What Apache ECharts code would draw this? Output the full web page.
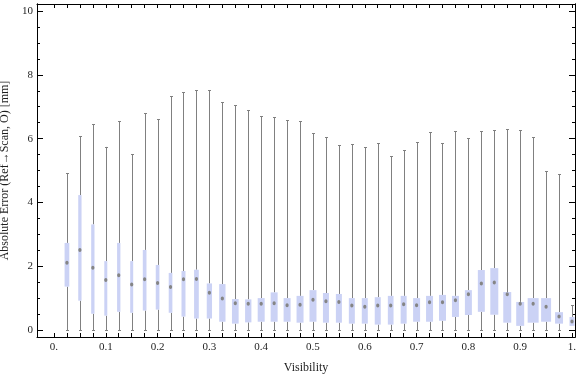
<!DOCTYPE html>
<html>
<head>
<meta charset="utf-8">
<script src="https://cdn.jsdelivr.net/npm/echarts@6/dist/echarts.min.js"></script>
<style>
html,body{margin:0;padding:0;background:#fff;}
#chart{width:576px;height:377px;}
</style>
</head>
<body>
<div id="chart"></div>
<script>
// Visibility categories (box positions)
const visibility = [0.025,0.05,0.075,0.1,0.125,0.15,0.175,0.2,0.225,0.25,
  0.275,0.3,0.325,0.35,0.375,0.4,0.425,0.45,0.475,0.5,
  0.525,0.55,0.575,0.6,0.625,0.65,0.675,0.7,0.725,0.75,
  0.775,0.8,0.825,0.85,0.875,0.9,0.925,0.95,0.975,1.0];
const minVals = [0,0,0,0,0,0,0,0,0,0, 0,0,0,0,0,0,0,0,0,0, 0,0,0,0,0,0,0,0,0,0, 0,0,0,0,0,0,0,0,0,0.13];
const q1Vals = [1.36,0.92,0.51,0.45,0.57,0.54,0.61,0.64,0.54,0.42,
  0.36,0.36,0.26,0.20,0.24,0.26,0.26,0.26,0.23,0.26,
  0.23,0.23,0.20,0.20,0.17,0.17,0.20,0.26,0.26,0.29,
  0.41,0.47,0.57,0.48,0.23,0.13,0.23,0.26,0.20,0.13];
const medianVals = [2.11,2.51,1.95,1.57,1.72,1.43,1.59,1.47,1.35,1.59,
  1.60,1.17,0.99,0.84,0.82,0.82,0.84,0.78,0.79,0.95,
  0.90,0.88,0.77,0.73,0.77,0.77,0.81,0.78,0.87,0.87,
  0.93,1.12,1.46,1.49,1.12,0.82,0.82,0.73,0.42,0.27];
const q3Vals = [2.73,4.23,3.31,2.16,2.73,2.16,2.51,2.04,1.79,1.85,
  1.89,1.46,1.44,0.97,0.96,1.00,1.18,1.00,1.07,1.25,
  1.16,1.13,1.00,1.00,1.03,1.07,1.07,1.00,1.07,1.10,
  1.07,1.25,1.88,1.94,1.19,0.88,1.00,1.00,0.56,0.41];
const maxVals = [4.91,6.08,6.45,5.74,6.55,5.51,6.79,6.61,7.33,7.45,
  7.52,7.52,7.14,7.04,6.89,6.70,6.67,6.57,6.54,6.17,
  6.04,5.79,5.82,5.73,5.85,5.44,5.63,5.88,6.20,5.85,
  6.23,6.01,6.23,6.26,6.29,6.26,6.04,4.97,4.88,0.77];
// box widths in visibility units
const boxWidth = [0.0091,0.0064,0.0064,0.0058,0.0064,0.0058,0.0071,0.0071,0.0071,0.0077,
  0.0091,0.0102,0.0122,0.0129,0.0122,0.0135,0.0135,0.0135,0.0135,0.0135,
  0.0116,0.0116,0.0116,0.0116,0.0116,0.0110,0.0116,0.0135,0.0135,0.0135,
  0.0135,0.0135,0.0135,0.0154,0.0154,0.0154,0.0212,0.0193,0.0154,0.0097];
// tick labels
const xTickLabels = ["0.","0.1","0.2","0.3","0.4","0.5","0.6","0.7","0.8","0.9","1."];
const xTickValues = [0,0.1,0.2,0.3,0.4,0.5,0.6,0.7,0.8,0.9,1.0];
const xMinorTickValues = [0,0.025,0.05,0.075,0.1,0.125,0.15,0.175,0.2,0.225,0.25,
  0.275,0.3,0.325,0.35,0.375,0.4,0.425,0.45,0.475,0.5,
  0.525,0.55,0.575,0.6,0.625,0.65,0.675,0.7,0.725,0.75,
  0.775,0.8,0.825,0.85,0.875,0.9,0.925,0.95,0.975,1.0];
const yTickValues = [0,2,4,6,8,10];
const yTickLabels = ["0","2","4","6","8","10"];
const yMinorTickValues = [0.5,1,1.5,2.5,3,3.5,4.5,5,5.5,6.5,7,7.5,8.5,9,9.5];

const data = visibility.map((v,i)=>[v,minVals[i],q1Vals[i],medianVals[i],q3Vals[i],maxVals[i],boxWidth[i]]);

const X_MIN = -0.0328, X_MAX = 1.0058, Y_MIN = -0.219, Y_MAX = 10.22;
const font = "Liberation Serif";
const labelColor = "#1e1e1e";

function xLabel(v){
  for (let i=0;i<xTickValues.length;i++){ if (Math.abs(v-xTickValues[i])<1e-6) return xTickLabels[i]; }
  return '';
}
function yLabel(v){
  for (let i=0;i<yTickValues.length;i++){ if (Math.abs(v-yTickValues[i])<1e-6) return yTickLabels[i]; }
  return '';
}

const frameLine = {show:true, onZero:false, lineStyle:{color:'#000', width:1}};

const option = {
  animation:false,
  backgroundColor:'#fff',
  grid:{left:37, right:1, top:4, bottom:40, containLabel:false, outerBoundsMode:'none'},
  xAxis:[
    {type:'value', position:'bottom', min:X_MIN, max:X_MAX,
     axisLine:frameLine, splitLine:{show:false},
     axisTick:{show:true, inside:true, length:4, customValues:xMinorTickValues, lineStyle:{color:'#000'}},
     axisLabel:{show:true, customValues:xTickValues, formatter:xLabel, margin:5,
       fontFamily:font, fontSize:11, color:labelColor, hideOverlap:false, showMinLabel:true, showMaxLabel:true},
     name:'Visibility', nameLocation:'middle', nameGap:25,
     nameTextStyle:{fontFamily:font, fontSize:12, color:labelColor}},
    {type:'value', position:'top', min:X_MIN, max:X_MAX,
     axisLine:frameLine, splitLine:{show:false},
     axisTick:{show:true, inside:true, length:4, customValues:xMinorTickValues, lineStyle:{color:'#000'}},
     axisLabel:{show:false}}
  ],
  yAxis:[
    {type:'value', position:'left', min:Y_MIN, max:Y_MAX,
     axisLine:frameLine, splitLine:{show:false},
     axisTick:{show:true, inside:true, length:6, customValues:yTickValues, lineStyle:{color:'#000'}},
     axisLabel:{show:true, customValues:yTickValues, formatter:yLabel, margin:4,
       fontFamily:font, fontSize:11, color:labelColor},
     name:'Absolute Error (Ref\u2192Scan, O) [mm]', nameLocation:'middle', nameGap:23,
     nameTextStyle:{fontFamily:font, fontSize:12, color:labelColor}},
    {type:'value', position:'left', min:Y_MIN, max:Y_MAX,
     axisLine:frameLine, splitLine:{show:false},
     axisTick:{show:true, inside:true, length:3, customValues:yMinorTickValues, lineStyle:{color:'#000'}},
     axisLabel:{show:false}},
    {type:'value', position:'right', min:Y_MIN, max:Y_MAX,
     axisLine:frameLine, splitLine:{show:false},
     axisTick:{show:true, inside:true, length:6, customValues:yTickValues, lineStyle:{color:'#000'}},
     axisLabel:{show:false}},
    {type:'value', position:'right', min:Y_MIN, max:Y_MAX,
     axisLine:frameLine, splitLine:{show:false},
     axisTick:{show:true, inside:true, length:3, customValues:yMinorTickValues, lineStyle:{color:'#000'}},
     axisLabel:{show:false}}
  ],
  series:[{
    type:'custom',
    xAxisIndex:0, yAxisIndex:0,
    clip:true,
    data:data,
    renderItem:function(params, api){
      const x = api.value(0);
      const pMin = api.coord([x, api.value(1)]);
      const pQ1 = api.coord([x, api.value(2)]);
      const pMed = api.coord([x, api.value(3)]);
      const pQ3 = api.coord([x, api.value(4)]);
      const pMax = api.coord([x, api.value(5)]);
      const w = api.size([api.value(6), 0])[0];
      const cx = Math.round(pQ1[0]) + 0.5;
      const wc = '#808080';
      const children = [];
      if (pMin[1] - pQ1[1] > 0.5) {
        children.push({type:'line', shape:{x1:cx, y1:pMin[1], x2:cx, y2:pQ1[1]}, style:{stroke:wc, lineWidth:1}});
        children.push({type:'line', shape:{x1:cx-1.5, y1:Math.round(pMin[1])+0.5, x2:cx+1.5, y2:Math.round(pMin[1])+0.5}, style:{stroke:wc, lineWidth:1}});
      }
      children.push({type:'line', shape:{x1:cx, y1:pQ3[1], x2:cx, y2:pMax[1]}, style:{stroke:wc, lineWidth:1}});
      children.push({type:'line', shape:{x1:cx-1.5, y1:Math.round(pMax[1])+0.5, x2:cx+1.5, y2:Math.round(pMax[1])+0.5}, style:{stroke:wc, lineWidth:1}});
      children.push({type:'rect', shape:{x:pQ1[0]-w/2, y:pQ3[1], width:w, height:pQ1[1]-pQ3[1]}, style:{fill:'#cbd2f5'}});
      children.push({type:'ellipse', shape:{cx:pMed[0], cy:pMed[1], rx:1.6, ry:2}, style:{fill:'#858585'}});
      return {type:'group', children:children};
    }
  }]
};

const chart = echarts.init(document.getElementById('chart'), null, {renderer:'canvas'});
chart.setOption(option);
</script>
</body>
</html>
